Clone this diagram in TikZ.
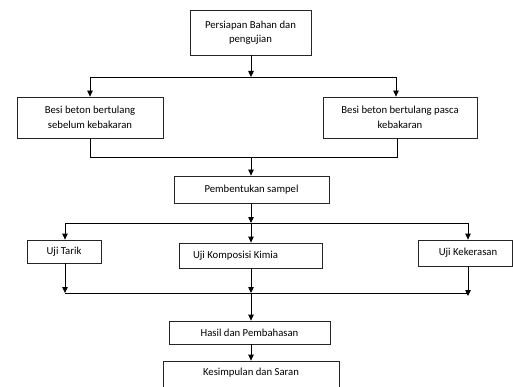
\documentclass[tikz,border=0pt]{standalone}
\usepackage{fontspec}
\setmainfont{Carlito}
\usetikzlibrary{arrows.meta}
\begin{document}
\begin{tikzpicture}[x=1pt,y=-1pt,
  box/.style={draw=black!85, line width=0.8pt, inner sep=0pt, align=center, font=\fontsize{10.7}{14.5}\selectfont},
  conn/.style={draw=black, line width=0.8pt},
  arr/.style={conn, -{Triangle[length=6pt,width=5.5pt]}}]
\useasboundingbox[fill=white] (0,0) rectangle (513,387);
\begin{scope}
\clip (0,0) rectangle (513,387);
\node[box, minimum width=121pt, minimum height=45pt] (b1) at (250.5,32.5) {Persiapan Bahan dan\\pengujian};
\node[box, minimum width=146pt, minimum height=41pt] (b2) at (90,117.5) {Besi beton bertulang\\sebelum kebakaran};
\node[box, minimum width=154pt, minimum height=41pt] (b3) at (400,117.5) {Besi beton bertulang pasca\\kebakaran};
\node[box, minimum width=155pt, minimum height=27pt] (b4) at (251.5,189.5) {Pembentukan sampel};
\node[box, minimum width=74pt, minimum height=23pt] (b5) at (64,251.5) {Uji Tarik};
\node[box, minimum width=143pt, minimum height=25pt] (b6) at (250.5,255.5) {Uji Komposisi Kimia\hspace*{30pt}};
\node[box, minimum width=94pt, minimum height=26pt] (b7) at (465,253) {\hspace*{6pt}Uji Kekerasan};
\node[box, minimum width=161pt, minimum height=23pt] (b8) at (249.5,332.5) {Hasil dan Pembahasan};
\node[box, minimum width=176pt, minimum height=40pt] (b9) at (251,381) {};
\node[font=\fontsize{10.7}{14.5}\selectfont] (t9) at (251,373) {Kesimpulan dan Saran};
\end{scope}

\coordinate (j1) at (251,77);
\coordinate (j1L) at (90,77);
\coordinate (j1R) at (396,77);
\draw[arr] (b1.south -| j1) -- (j1);
\draw[conn] (j1L) -- (j1R);
\draw[arr] (j1L) -- (j1L |- b2.north);
\draw[arr] (j1R) -- (j1R |- b3.north);

\coordinate (j2) at (251,157);
\coordinate (j2L) at (90,157);
\coordinate (j2R) at (397,157);
\draw[conn] (j2L |- b2.south) -- (j2L) -- (j2R) -- (j2R |- b3.south);
\draw[arr] (j2) -- (j2 |- b4.north);

\coordinate (j3) at (251,223);
\coordinate (j3L) at (65,223);
\coordinate (j3R) at (468,223);
\draw[arr] (j3 |- b4.south) -- (j3);
\draw[conn] (j3L) -- (j3R);
\draw[arr] (j3L) -- (j3L |- b5.north);
\draw[arr] (j3) -- (j3 |- b6.north);
\draw[arr] (j3R) -- (j3R |- b7.north);

\coordinate (j4) at (251,293);
\coordinate (j4L) at (65,293);
\coordinate (j4R) at (468,293);
\draw[conn] (j4L) -- (j4R);
\draw[arr] (j4L |- b5.south) -- (j4L);
\draw[arr] (j4 |- b6.south) -- (j4);
\draw[arr] (j4R |- b7.south) -- ([yshift=-3pt]j4R);
\draw[arr] (j4) -- (j4 |- b8.north);
\draw[arr] (j4 |- b8.south) -- (j4 |- b9.north);
\end{tikzpicture}
\end{document}
